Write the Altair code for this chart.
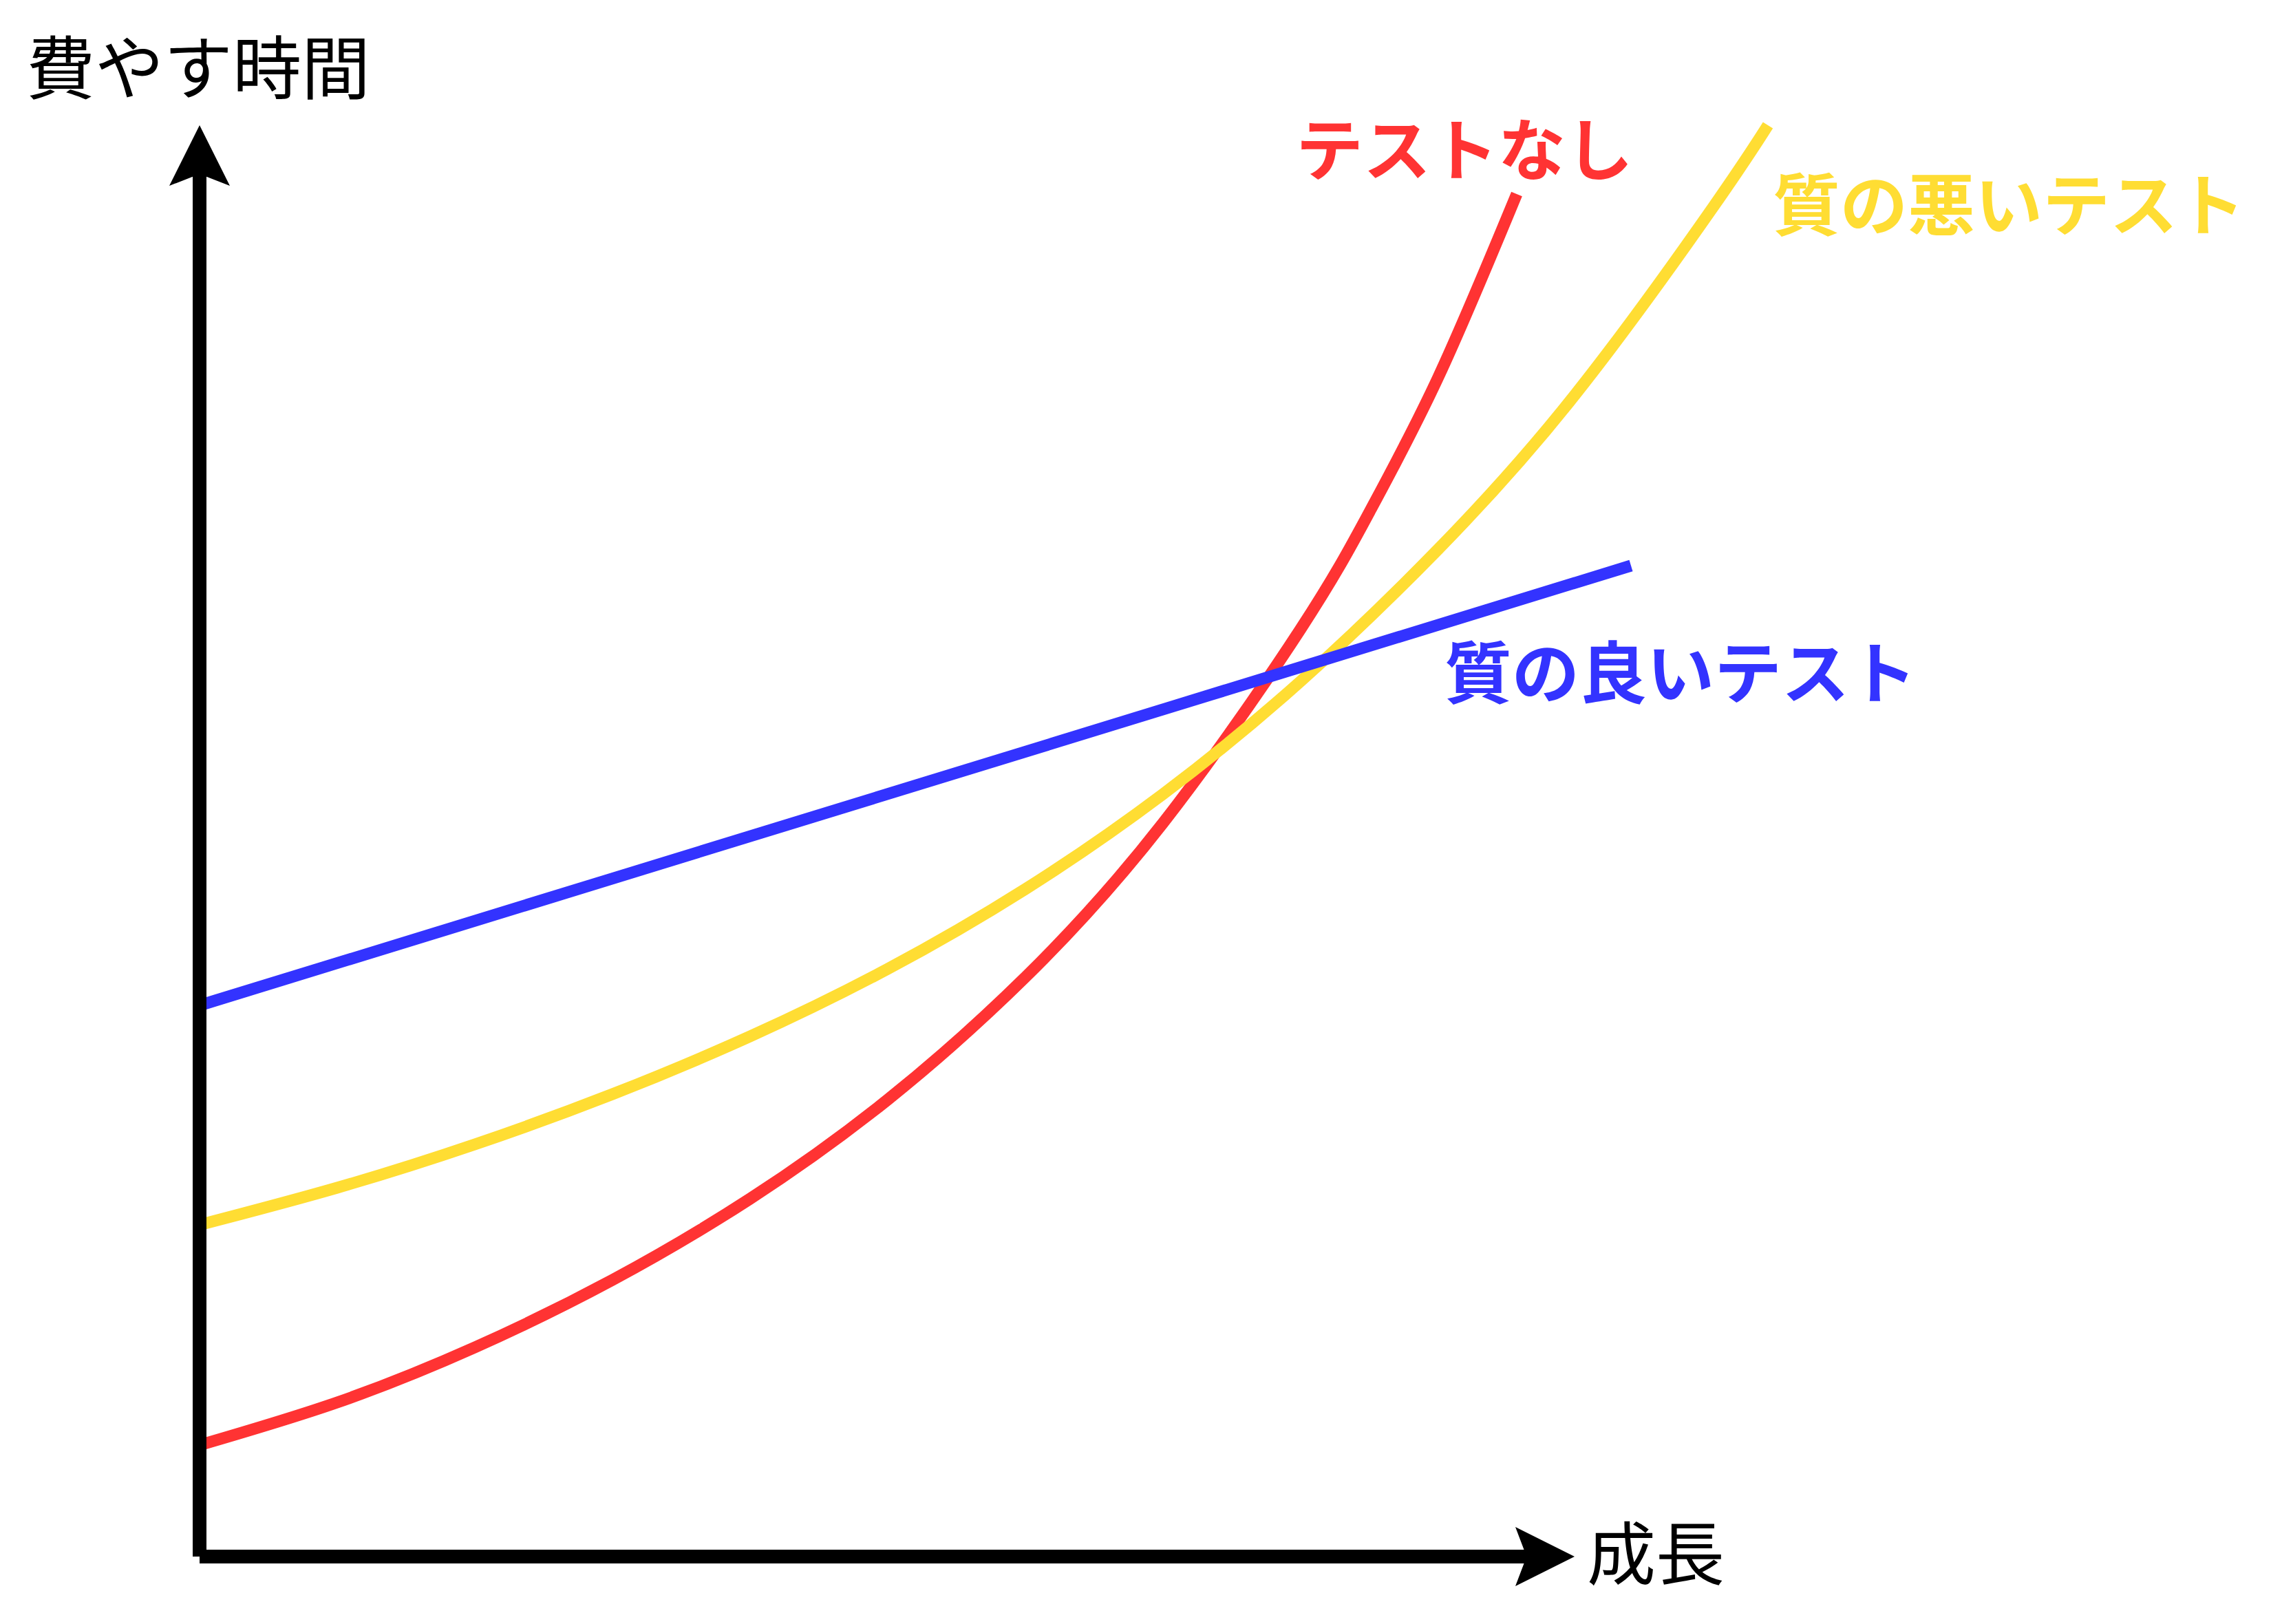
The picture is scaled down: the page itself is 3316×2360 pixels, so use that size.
import altair as alt
import pandas as pd

# Data in chart units: x = growth (成長), y = time spent (費やす時間)
good_x = [0, 104]
good_y = [40.05, 72.0]

bad_x = [0, 10, 20, 30, 40, 50, 60, 70, 80, 90, 100, 110, 113.95]
bad_y = [24.1, 26.8, 29.95, 33.6, 37.8, 42.7, 48.5, 55.4, 63.6, 73.2, 84.5, 98.1, 104.0]

none_x = [0, 10, 20, 30, 40, 50, 60, 70, 80, 85, 90, 95.7]
none_y = [8.1, 11.2, 15.2, 20.1, 26.0, 33.2, 42.1, 53.3, 67.4, 75.9, 85.7, 99.0]

series_labels = ["テストなし", "質の悪いテスト", "質の良いテスト"]
series_colors = ["#FF3333", "#FFDD33", "#3333FF"]
label_x = [91.9, 131.45, 107.6]
label_y = [102.25, 98.25, 64.25]

axis_titles = ["費やす時間", "成長"]
axis_title_x = [-0.1, 105.8]
axis_title_y = [108.2, 0.25]

# axis lines and arrow heads
vaxis = {"x": [0], "y": [0], "y2": [101]}
haxis = {"y": [0], "x": [0], "x2": [96.8]}
up_arrow = {"x": [0], "y": [101.8]}
right_arrow = {"x": [97.75], "y": [0]}

X = alt.Scale(domain=[0, 150], nice=False, zero=False)
Y = alt.Scale(domain=[0, 105], nice=False, zero=False)


def line_layer(xs, ys, color):
    df = pd.DataFrame({"x": xs, "y": ys})
    return alt.Chart(df).mark_line(
        color=color, strokeWidth=17, strokeCap="butt", interpolate="natural", clip=False
    ).encode(
        x=alt.X("x:Q", scale=X, axis=None),
        y=alt.Y("y:Q", scale=Y, axis=None),
    )


red = line_layer(none_x, none_y, series_colors[0])
yellow = line_layer(bad_x, bad_y, series_colors[1])
blue = line_layer(good_x, good_y, series_colors[2])

v_rule = alt.Chart(pd.DataFrame(vaxis)).mark_rule(color="black", strokeWidth=20, strokeCap="butt").encode(
    x=alt.X("x:Q", scale=X, axis=None),
    y=alt.Y("y:Q", scale=Y, axis=None),
    y2="y2:Q",
)
h_rule = alt.Chart(pd.DataFrame(haxis)).mark_rule(color="black", strokeWidth=20, strokeCap="butt").encode(
    x=alt.X("x:Q", scale=X, axis=None),
    x2="x2:Q",
    y=alt.Y("y:Q", scale=Y, axis=None),
)

up = alt.Chart(pd.DataFrame(up_arrow)).mark_point(
    shape="M0,-1L1,1L0,0.61L-1,1Z", filled=True, size=7744, color="black", opacity=1, strokeWidth=0
).encode(x=alt.X("x:Q", scale=X, axis=None), y=alt.Y("y:Q", scale=Y, axis=None))

right = alt.Chart(pd.DataFrame(right_arrow)).mark_point(
    shape="M1,0L-1,-1L-0.62,0L-1,1Z", filled=True, size=7396, color="black", opacity=1, strokeWidth=0
).encode(x=alt.X("x:Q", scale=X, axis=None), y=alt.Y("y:Q", scale=Y, axis=None))

labels_df = pd.DataFrame({"label": series_labels, "color": series_colors, "x": label_x, "y": label_y})
labels = alt.Chart(labels_df).mark_text(
    font="Noto Sans CJK JP", fontSize=98, fontWeight="bold", align="center", baseline="middle", dy=8
).encode(
    x=alt.X("x:Q", scale=X, axis=None),
    y=alt.Y("y:Q", scale=Y, axis=None),
    text="label:N",
    color=alt.Color("color:N", scale=None),
)

titles_df = pd.DataFrame({"label": axis_titles, "x": axis_title_x, "y": axis_title_y})
titles = alt.Chart(titles_df).mark_text(
    font="Noto Sans CJK JP", fontSize=100, fontWeight="normal", align="center", baseline="middle",
    dy=8, color="black"
).encode(
    x=alt.X("x:Q", scale=X, axis=None),
    y=alt.Y("y:Q", scale=Y, axis=None),
    text="label:N",
)

chart = alt.layer(
    red, yellow, blue, v_rule, h_rule, up, right, labels, titles
).properties(
    width=3000,
    height=2100,
    padding={"left": 290, "top": 162, "right": 26, "bottom": 98},
    autosize=alt.AutoSizeParams(type="none"),
    background="white",
).configure_view(stroke=None)

chart.save("out.html", embed_options={"renderer": "svg", "actions": False})
